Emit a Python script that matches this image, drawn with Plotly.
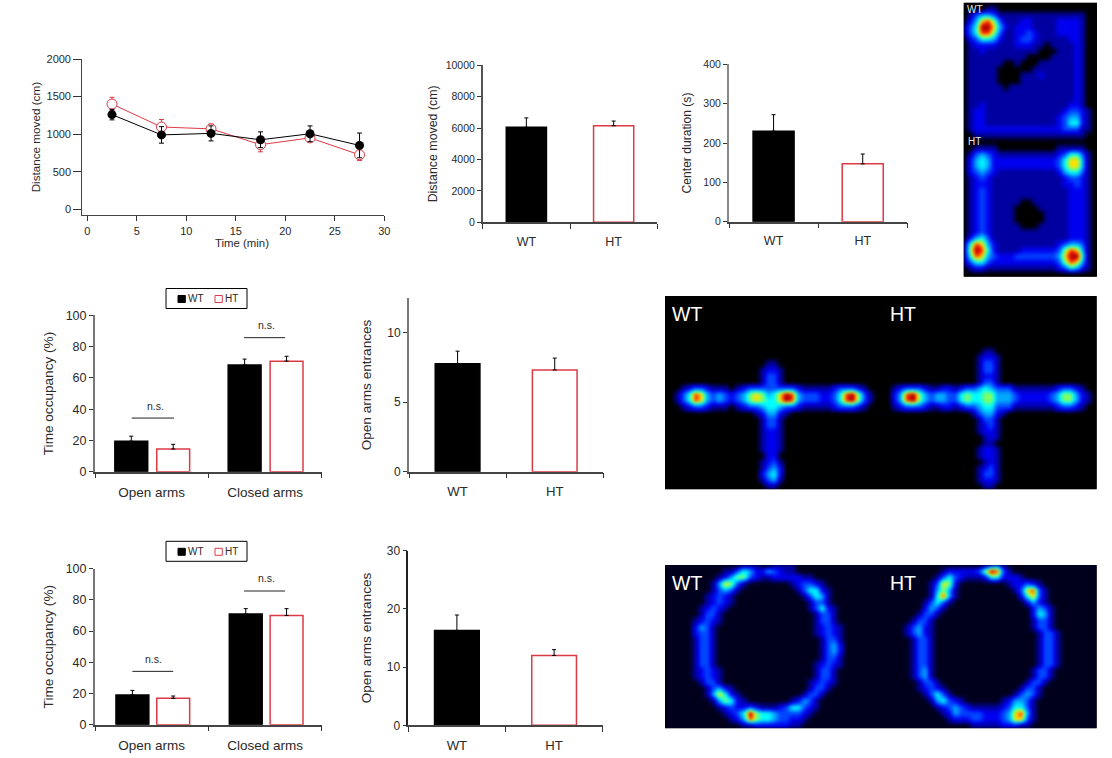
import plotly.graph_objects as go

W, H = 1112, 758
FONT = "Liberation Sans"
INK = "#2a2a2a"
RED = "#dc3a45"

# ---- line chart
TIME = [2.5, 7.5, 12.5, 17.5, 22.5, 27.5]
DIST_WT = [1260, 990, 1010, 925, 1005, 850]
DIST_WT_ERR = [70, 110, 100, 105, 105, 165]
DIST_HT = [1400, 1095, 1070, 860, 950, 725]
DIST_HT_ERR = [90, 100, 65, 95, 55, 75]

# ---- bars
GENOTYPES = ["WT", "HT"]
ARMS = ["Open arms", "Closed arms"]
TOTAL_DIST = [6050, 6150]
TOTAL_DIST_ERR = [600, 300]
CENTER_DUR = [230, 147]
CENTER_DUR_ERR = [42, 25]
EPM_WT = [19.5, 68.2]
EPM_WT_ERR = [3.2, 3.8]
EPM_HT = [14.5, 70.7]
EPM_HT_ERR = [3.0, 3.1]
EPM_ENTR = [7.75, 7.3]
EPM_ENTR_ERR = [0.9, 0.85]
ZERO_WT = [19.0, 70.9]
ZERO_WT_ERR = [3.0, 3.5]
ZERO_HT = [16.9, 70.0]
ZERO_HT_ERR = [1.5, 4.4]
ZERO_ENTR = [16.3, 12.0]
ZERO_ENTR_ERR = [2.65, 1.0]

# ---- heat maps: one digit per 6 px cell, read by eye (0 dark ... 9 deep red)
OPEN_FIELD = [
 "00000000000000000000000", "00001100000000000000000", "01344311111111111111100",
 "02478631112211112222100", "13599742122211112222100", "13588631122321112222100",
 "02355421123321111122100", "01222211122211011112100", "01121111111110001112100",
 "01111111111000011112100", "01111110010001111112100", "01111100000011111112100",
 "01111100001112111112100", "01111100001111111112100", "01111110111111111112100",
 "01111111111111111112100", "01111111111111111112100", "01121111111111111122100",
 "01221111111111111233210", "01221111111111112344210", "01221111111111112355210",
 "01222222222222222333110", "00111111111111111111100", "00000000000000000000000",
 "00111100000000001111100", "01343211111111112355310", "02454222222222223577410",
 "02454222222222223577410", "02343211111111112455310", "01232111111111111233210",
 "01222111111111111223210", "01232111111111111122210", "01232111111111111122210",
 "01232111110011111122210", "01232111100001111122210", "01232111100000111122210",
 "01232111100000111122210", "01232111110001111122210", "01232111111111111122210",
 "02453111111111111122210", "15874211111111112344310", "16985211112222223687410",
 "15874322233333334799510", "13553222222222223687410", "01221111111111112354210",
 "00000000000000000000000",
]

EMPTY = "000000000000000000000000000000000000"
CROSS_WT = [
 EMPTY, EMPTY, EMPTY, EMPTY, EMPTY, EMPTY, EMPTY, EMPTY, EMPTY, EMPTY, EMPTY,
 "000000000000000001100000000000000000", "000000000000000012210000000000000000",
 "000000000000000013310000000000000000", "000000000000000013310000000000000000",
 "000123321110123333333321111123332100", "001358743432346764579843332235896310",
 "001358743432346765579843332235896310", "000123321110123345543321111123332100",
 "000000000000000124421000000000000000", "000000000000000013310000000000000000",
 "000000000000000013310000000000000000", "000000000000000012210000000000000000",
 "000000000000000012210000000000000000", "000000000000000012210000000000000000",
 "000000000000000012210000000000000000", "000000000000000002200000000000000000",
 "000000000000000012310000000000000000", "000000000000000013420000000000000000",
 "000000000000000024520000000000000000", "000000000000000013410000000000000000",
 "000000000000000001100000000000000000",
]
CROSS_HT = [
 EMPTY, EMPTY, EMPTY, EMPTY, EMPTY, EMPTY, EMPTY, EMPTY, EMPTY,
 "000000000000000001100000000000000000", "000000000000000012210000000000000000",
 "000000000000000013310000000000000000", "000000000000000013310000000000000000",
 "000000000000000012210000000000000000", "000000000000000013310000000000000000",
 "001233321122123345433311111112332100", "002489643443356556644432222234664210",
 "002489643443356556644432222234664210", "001233321122123345533311111112332100",
 "000000000000000134421000000000000000", "000000000000000013310000000000000000",
 "000000000000000012310000000000000000", "000000000000000012210000000000000000",
 "000000000000000001210000000000000000", "000000000000000001100000000000000000",
 "000000000000000012210000000000000000", "000000000000000012210000000000000000",
 "000000000000000001210000000000000000", "000000000000000012310000000000000000",
 "000000000000000013310000000000000000", "000000000000000012210000000000000000",
 "000000000000000001100000000000000000",
]
RING_WT = [
 "000000000000011100111100000000000000", "000000000011354224321100000000000000",
 "000000000124663211222221100000000000", "000000001476310000000123321000000000",
 "000000001343100000000013552100000000", "000000012321000000000001354100000000",
 "000000012321000000000000133100000000", "000000123210000000000000135210000000",
 "000000133100000000000000013310000000", "000001232100000000000000013310000000",
 "000002431000000000000000012321000000", "000002331000000000000000012321000000",
 "000001331000000000000000001331000000", "000001331000000000000000001342000000",
 "000001331000000000000000001342000000", "000001331000000000000000001331000000",
 "000001331000000000000000012321000000", "000001232100000000000000013310000000",
 "000001232100000000000000013310000000", "000000133100000000000000123210000000",
 "000000013421000000000000133100000000", "000000014752100000000001331000000000",
 "000000001465210000000124310000000000", "000000000123223211123553210000000000",
 "000000000012359655433332100000000000", "000000000001248655433221000000000000",
 "000000000000011222222110000000000000",
]
RING_HT = [
 "000000000000000001231000000000000000", "000000000012222236983100000000000000",
 "000000000135321112552221000000000000", "000000001376200000000122321000000000",
 "000000001464100000000013783100000000", "000000001584100000000002573100000000",
 "000000013531000000000000242100000000", "000000024310000000000000024310000000",
 "000000133100000000000000025410000000", "000001331000000000000000013310000000",
 "000013421000000000000000013310000000", "000013421000000000000000001331000000",
 "000001331000000000000000001331000000", "000001331000000000000000001331000000",
 "000001331000000000000000001331000000", "000001331000000000000000001331000000",
 "000001331000000000000000001331000000", "000001341000000000000000013310000000",
 "000001341000000000000000013310000000", "000000133100000000000000133100000000",
 "000000123210000000000001331000000000", "000000013531000000000013431000000000",
 "000000001453210000001244310000000000", "000000000123432111112355310000000000",
 "000000000012433332223478410000000000", "000000000001222332223477310000000000",
 "000000000000000111112221100000000000",
]
LEVELS = ["#000000", "#0000a0", "#0000f0", "#0046ff", "#00aaff",
          "#00ffff", "#80ff60", "#ffe000", "#ff2000", "#a00000"]
RING_LEVELS = ["#00001c"] + LEVELS[1:]


def digits(rows):
    return [[int(c) for c in r] for r in rows]


def join(a, b):
    return [x + y for x, y in zip(a, b)]


fig = go.Figure()
layout = dict(
    width=W, height=H, margin=dict(l=0, r=0, t=0, b=0), showlegend=False,
    paper_bgcolor="white", plot_bgcolor="white",
    font=dict(family=FONT, color=INK, size=12),
)
shapes, notes = [], []


def px_dom(a, b, size):
    return [a / size, b / size]


def set_axes(i, l, r, t, b, xa, ya):
    xa = dict(xa, domain=px_dom(l, r, W), anchor=f"y{i}", automargin=False)
    ya = dict(ya, domain=[1 - b / H, 1 - t / H], anchor=f"x{i}", automargin=False)
    layout[f"xaxis{i}"] = xa
    layout[f"yaxis{i}"] = ya


def y_axis(rng, dtick, title, tick_size, title_size, standoff, color="#666666", lw=1.5, ticklen=4):
    return dict(range=rng, dtick=dtick, tick0=0, ticks="outside", ticklen=ticklen, tickwidth=1,
                tickcolor="#333333", showline=True, linecolor=color, linewidth=lw, tickformat="d",
                showgrid=False, zeroline=False, tickfont=dict(size=tick_size),
                title=dict(text=title, font=dict(size=title_size), standoff=standoff))


def x_cat(labels, size, pad):
    return dict(range=[0, 2], tickmode="array", tickvals=[0.5, 1.5], ticktext=labels,
                ticks="outside", ticklen=pad, tickcolor="rgba(0,0,0,0)", showline=True,
                linecolor="#444444", linewidth=1.5, showgrid=False, zeroline=False,
                tickfont=dict(size=size),
                minor=dict(tickmode="array", tickvals=[0, 1, 2], ticks="outside",
                           ticklen=5, tickwidth=1, tickcolor="#333333"))


def up_err(v):
    return dict(type="data", symmetric=False, array=v, arrayminus=[0] * len(v),
                color="black", thickness=1, width=2)


def bar(i, x, y, e, hollow, width):
    fig.add_bar(x=x, y=y, width=width, xaxis=f"x{i}", yaxis=f"y{i}", error_y=up_err(e),
                marker=dict(color="white" if hollow else "black",
                            line=dict(color=RED if hollow else "black", width=1.5)))


def pair(i, y, e):
    bar(i, [0.5], [y[0]], [e[0]], False, 0.46)
    bar(i, [1.5], [y[1]], [e[1]], True, 0.46)


def P(x, y):
    return x / W, 1 - y / H


def label(x, y, text, size, color=INK, anchor="left"):
    px, py = P(x - 2 if anchor == "left" else x, y)
    notes.append(dict(x=px, y=py, xref="paper", yref="paper", text=text, showarrow=False,
                      xanchor=anchor, yanchor="middle", font=dict(size=size, color=color)))


def legend_box(top):
    shapes.append(dict(type="rect", xref="paper", yref="paper",
                       x0=166 / W, x1=247 / W, y0=1 - (top + 20) / H, y1=1 - top / H,
                       line=dict(color="black", width=1), fillcolor="white"))
    sy0, sy1 = 1 - (top + 14) / H, 1 - (top + 7) / H
    shapes.append(dict(type="rect", xref="paper", yref="paper", x0=178 / W, x1=185.3 / W,
                       y0=sy0, y1=sy1, line=dict(color="black", width=1), fillcolor="black"))
    shapes.append(dict(type="rect", xref="paper", yref="paper", x0=215 / W, x1=222.3 / W,
                       y0=sy0, y1=sy1, line=dict(color=RED, width=1), fillcolor="white"))
    label(188, top + 10, GENOTYPES[0], 10)
    label(225, top + 10, GENOTYPES[1], 10)


def ns(i, x0, x1, y, tx, ty):
    shapes.append(dict(type="line", xref=f"x{i}", yref=f"y{i}", x0=x0, x1=x1, y0=y, y1=y,
                       line=dict(color="#222222", width=1)))
    notes.append(dict(x=tx, y=ty, xref=f"x{i}", yref=f"y{i}", text="n.s.", showarrow=False,
                      font=dict(size=10.5)))


# Panel 1: line chart
fig.add_scatter(x=TIME, y=DIST_HT, xaxis="x1", yaxis="y1", mode="lines+markers",
                line=dict(color=RED, width=1),
                marker=dict(symbol="circle", size=10, color="white", line=dict(color=RED, width=1)),
                error_y=dict(type="data", array=DIST_HT_ERR, color=RED, thickness=1, width=2.5))
fig.add_scatter(x=TIME, y=DIST_WT, xaxis="x1", yaxis="y1", mode="lines+markers",
                line=dict(color="black", width=1), marker=dict(color="black", size=9),
                error_y=dict(type="data", array=DIST_WT_ERR, color="black", thickness=1, width=2.5))
ya1 = y_axis([-80, 2000], 500, "Distance moved (cm)", 11, 11.7, 3, "#444444", 1.2, 8)
xa1 = dict(range=[-0.5, 30], dtick=5, tick0=0, ticks="outside", ticklen=5, tickcolor="#333333",
           showline=True, linecolor="#444444", linewidth=1.2, showgrid=False, zeroline=False,
           tickfont=dict(size=11))
set_axes(1, 82.3, 384.3, 59, 215.3, xa1, ya1)
label(241.7, 243, "Time (min)", 11.4, anchor="center")

# Panel 2, 3: open field bars
pair(2, TOTAL_DIST, TOTAL_DIST_ERR)
set_axes(2, 482.7, 657.3, 65.3, 222.3, x_cat(GENOTYPES, 12.5, 7),
         y_axis([0, 10000], 2000, "Distance moved (cm)", 10.5, 12.4, 5, "#555555", 1.5))
pair(3, CENTER_DUR, CENTER_DUR_ERR)
set_axes(3, 729, 907.3, 64.3, 221.7, x_cat(GENOTYPES, 12.5, 7),
         y_axis([0, 400], 100, "Center duration (s)", 10.5, 12.1, 9, "#888888", 2))

# Panel 4: elevated plus maze occupancy
bar(4, [g + 0.32 for g in (0, 1)], EPM_WT, EPM_WT_ERR, False, 0.29)
bar(4, [g + 0.69 for g in (0, 1)], EPM_HT, EPM_HT_ERR, True, 0.29)
set_axes(4, 95, 321.7, 315.3, 471.7, x_cat(ARMS, 13.5, 7),
         y_axis([0, 100], 20, "Time occupancy (%)", 12.5, 13.6, 9, "#777777", 2))
ns(4, 0.324, 0.697, 34.3, 0.53, 42)
ns(4, 1.315, 1.676, 85.7, 1.51, 93.8)
legend_box(288.5)

# Panel 5: entrances
pair(5, EPM_ENTR, EPM_ENTR_ERR)
set_axes(5, 409, 603.3, 298.3, 471.7, x_cat(GENOTYPES, 13.2, 7),
         y_axis([0, 12.44], 5, "Open arms entrances", 12, 13.6, 12, "#777777", 2))

# Panel 6: zero maze occupancy
bar(6, [g + 0.33 for g in (0, 1)], ZERO_WT, ZERO_WT_ERR, False, 0.29)
bar(6, [g + 0.69 for g in (0, 1)], ZERO_HT, ZERO_HT_ERR, True, 0.29)
set_axes(6, 95, 321.7, 568.7, 724.7, x_cat(ARMS, 13.5, 7),
         y_axis([0, 100], 20, "Time occupancy (%)", 12.5, 13.6, 9, "#777777", 2))
ns(6, 0.33, 0.69, 34.2, 0.52, 41.9)
ns(6, 1.315, 1.676, 85.7, 1.51, 94)
legend_box(541.3)

# Panel 7: entrances
pair(7, ZERO_ENTR, ZERO_ENTR_ERR)
set_axes(7, 408.3, 602.7, 550.7, 725.3, x_cat(GENOTYPES, 13.2, 7),
         y_axis([0, 30], 10, "Open arms entrances", 12, 13.6, 12, "#222222", 1.5))


# Heat maps
def heat(i, rows, levels, l, r, t, b):
    z = digits(rows)
    scale = [[k / 9, c] for k, c in enumerate(levels)]
    fig.add_heatmap(z=z, x0=0, dx=6, y0=0, dy=6, xaxis=f"x{i}", yaxis=f"y{i}", zmin=0, zmax=9,
                    zsmooth="best", colorscale=scale, showscale=False, hoverinfo="skip")
    xa = dict(range=[0, len(z[0]) * 6 - 3], visible=False)
    ya = dict(range=[len(z) * 6 - 3, 0], visible=False)
    set_axes(i, l, r, t, b, xa, ya)
    shapes.append(dict(type="rect", xref="paper", yref="paper", layer="below",
                       x0=l / W, x1=r / W, y0=1 - b / H, y1=1 - t / H,
                       line=dict(width=0), fillcolor=levels[0]))


heat(8, OPEN_FIELD, LEVELS, 963.7, 1097, 2.7, 276.7)
heat(9, join(CROSS_WT, CROSS_HT), LEVELS, 665, 1096.7, 296, 489.3)
heat(10, join(RING_WT, RING_HT), RING_LEVELS, 665, 1096.7, 565, 728.3)

label(967, 10, "WT", 10, "#e8e8e8")
label(968, 141, "HT", 10, "#e8e8e8")
label(672, 314, "WT", 19.5, "white")
label(890, 314, "HT", 19.5, "white")
label(672, 583, "WT", 19.5, "white")
label(890, 583, "HT", 19.5, "white")

layout["shapes"] = shapes
layout["annotations"] = notes
fig.update_layout(**layout)
soften = ("document.body.style.margin='0';"
          "document.querySelectorAll('.hm image').forEach(function(m){m.style.filter='blur(1.8px)';});")
fig.write_html("out.html", post_script=soften, config={"displayModeBar": False})
